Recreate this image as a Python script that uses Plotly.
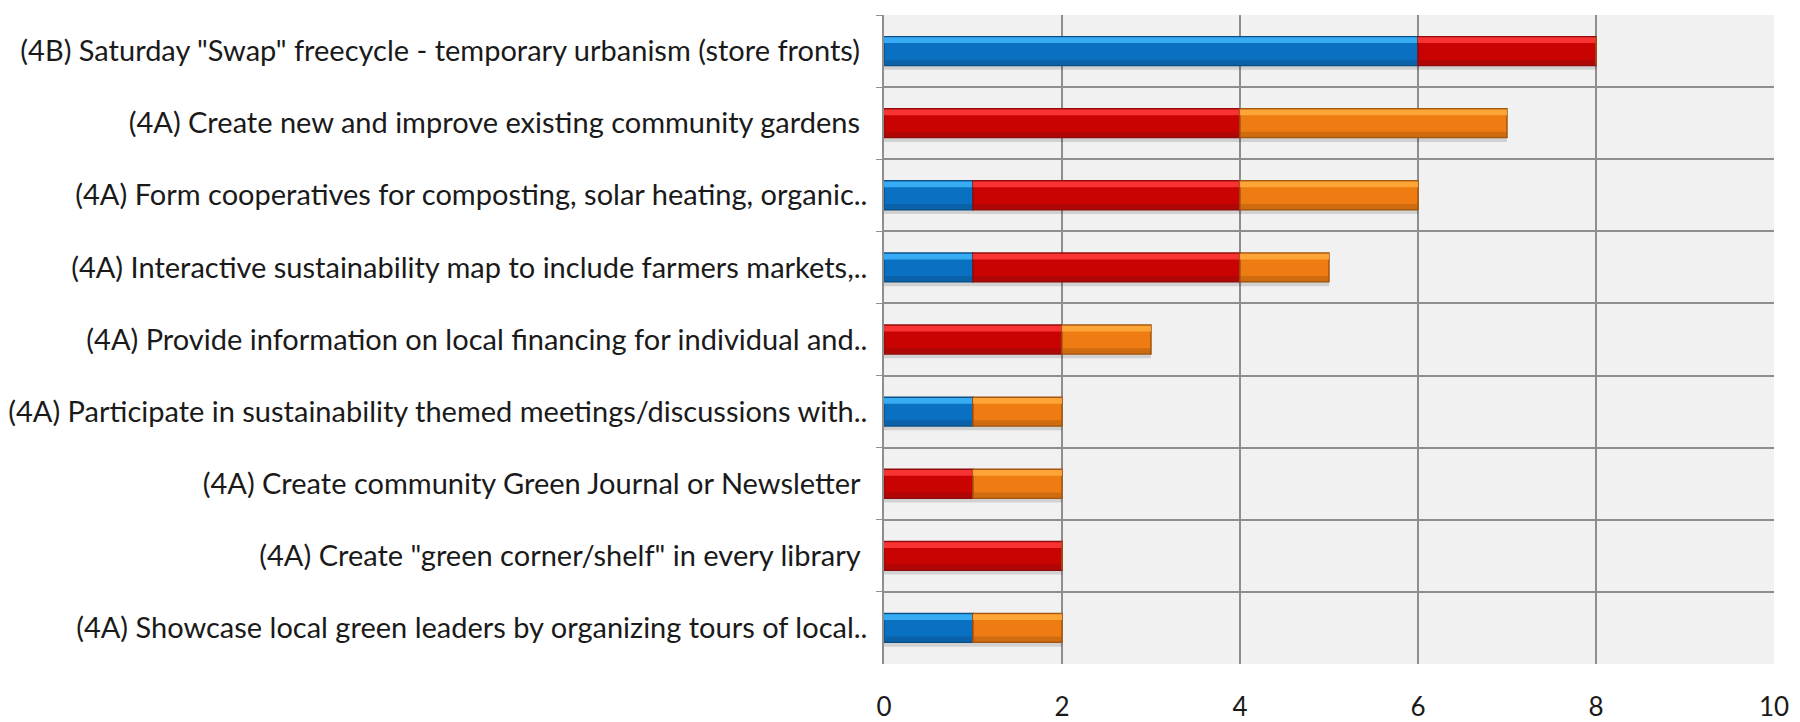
import plotly.graph_objects as go

categories = [
    '(4B) Saturday "Swap" freecycle - temporary urbanism (store fronts) ',
    '(4A) Create new and improve existing community gardens ',
    '(4A) Form cooperatives for composting, solar heating, organic..',
    '(4A) Interactive sustainability map to include farmers markets,..',
    '(4A) Provide information on local financing for individual and..',
    '(4A) Participate in sustainability themed meetings/discussions with..',
    '(4A) Create community Green Journal or Newsletter ',
    '(4A) Create "green corner/shelf" in every library ',
    '(4A) Showcase local green leaders by organizing tours of local..',
]
blue_vals = [6, 0, 1, 1, 0, 1, 0, 0, 1]
red_vals = [2, 4, 3, 3, 2, 0, 1, 2, 0]
orange_vals = [0, 3, 2, 1, 1, 1, 1, 0, 1]
x_ticks = [0, 2, 4, 6, 8, 10]

series = [
    ("Blue", blue_vals, "#0a70c2", "#0b4f86", "#3fb6fa"),
    ("Red", red_vals, "#c90202", "#8e0c0c", "#ff3c3c"),
    ("Orange", orange_vals, "#ee7c12", "#a2560f", "#ffae3e"),
]

FONT = "Lato, sans-serif"

fig = go.Figure()

# soft shadow under each full stacked bar
totals = [b + r + o for b, r, o in zip(blue_vals, red_vals, orange_vals)]
fig.add_trace(go.Bar(
    y=categories, x=totals, orientation="h", name="shadow",
    marker=dict(color="rgba(0,0,0,0.13)", line=dict(width=0)),
    width=0.06, offset=0.2, showlegend=False, hoverinfo="skip",
))

base = [0] * len(categories)
for name, vals, col, edge, hi in series:
    fig.add_trace(go.Bar(
        y=categories, x=vals, base=base, orientation="h", name=name,
        marker=dict(color=col, line=dict(color=edge, width=1.5)),
        width=0.4, showlegend=False,
    ))
    # highlight band on upper part of each bar (bevel look)
    fig.add_trace(go.Bar(
        y=categories, x=vals, base=base, orientation="h", name=name + " hl",
        marker=dict(color=hi, line=dict(width=0), opacity=0.85),
        width=0.08, offset=-0.19, showlegend=False, hoverinfo="skip",
    ))
    # shade band on lower part
    fig.add_trace(go.Bar(
        y=categories, x=vals, base=base, orientation="h", name=name + " sh",
        marker=dict(color=edge, line=dict(width=0), opacity=0.4),
        width=0.07, offset=0.12, showlegend=False, hoverinfo="skip",
    ))
    base = [b + v for b, v in zip(base, vals)]

fig.update_layout(
    barmode="overlay",
    width=1800, height=722,
    margin=dict(l=876, r=34, t=7, b=66),
    paper_bgcolor="white",
    plot_bgcolor="#f1f1f1",
    font=dict(family=FONT, size=29, color="#1a1a1a"),
    xaxis=dict(
        range=[0, 10], tickvals=x_ticks, showgrid=True, gridcolor="#8e8e8e",
        gridwidth=1.5, zeroline=False, showline=False, ticks="",
        ticklabelstandoff=25, tickfont=dict(size=26), automargin=False,
    ),
    yaxis=dict(
        autorange="reversed", tickson="boundaries", showgrid=True,
        gridcolor="#8e8e8e", gridwidth=1.5, ticks="outside", ticklen=6,
        tickcolor="#8e8e8e", showline=True, linecolor="#8e8e8e", linewidth=1.5,
        ticklabelstandoff=9, tickfont=dict(size=29), automargin=False,
    ),
)

fig.write_html("out.html")
